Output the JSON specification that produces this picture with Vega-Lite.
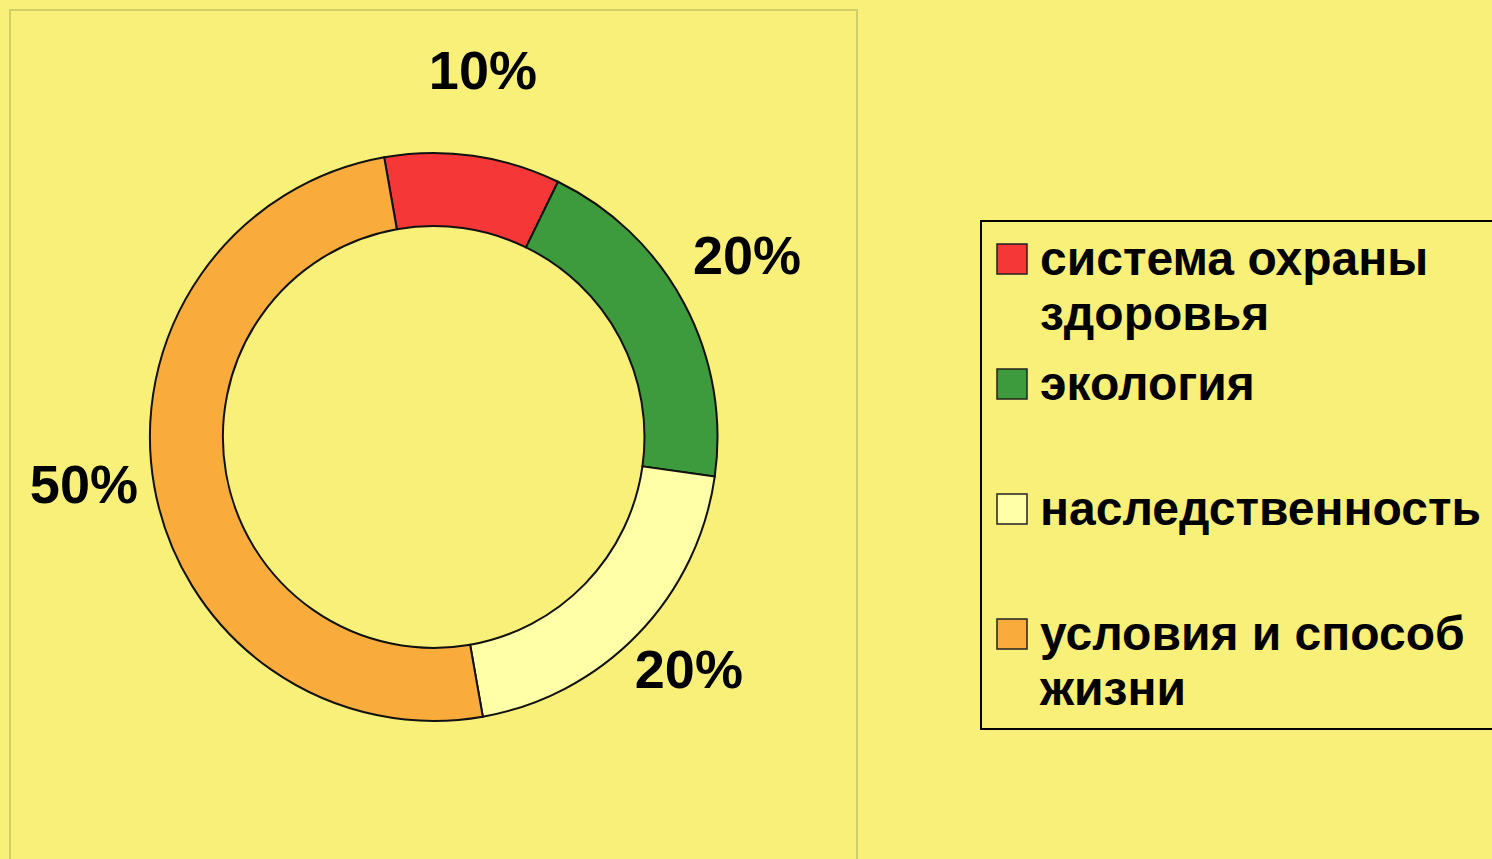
{
  "$schema": "https://vega.github.io/schema/vega-lite/v6.json",
  "width": 847,
  "height": 854,
  "padding": {"left": 10, "top": 10, "right": 0, "bottom": 0},
  "autosize": {"type": "pad"},
  "background": "#f8f079",
  "view": {"stroke": "#cfcf6a", "strokeWidth": 2},
  "data": {
    "values": [
      {"factor": "система охраны здоровья", "share": 10, "order": 1, "label": "10%"},
      {"factor": "экология", "share": 20, "order": 2, "label": "20%"},
      {"factor": "наследственность", "share": 20, "order": 3, "label": "20%"},
      {"factor": "условия и способ жизни", "share": 50, "order": 4, "label": "50%"}
    ]
  },
  "encoding": {
    "theta": {"field": "share", "type": "quantitative", "stack": true, "scale": {"range": [-0.17453, 6.10865]}},
    "order": {"field": "order", "type": "quantitative"}
  },
  "layer": [
    {
      "mark": {"type": "arc", "outerRadius": 284, "innerRadius": 211, "stroke": "#111111", "strokeWidth": 2},
      "encoding": {
        "color": {
          "field": "factor",
          "type": "nominal",
          "scale": {
            "domain": ["система охраны здоровья", "экология", "наследственность", "условия и способ жизни"],
            "range": ["#f53737", "#3d9b3d", "#ffffa8", "#f9ac3c"]
          },
          "legend": {
            "title": null,
            "orient": "none",
            "legendX": 971,
            "legendY": 211,
            "padding": 14,
            "strokeColor": "#000000",
            "symbolType": "square",
            "symbolSize": 900,
            "symbolStrokeColor": "#222222",
            "symbolStrokeWidth": 1.5,
            "symbolOpacity": 1,
            "symbolOffset": -7,
            "labelFont": "Liberation Sans",
            "labelFontWeight": "bold",
            "labelFontSize": 48,
            "labelColor": "#000000",
            "labelLimit": 2000,
            "labelOffset": 4,
            "labelBaseline": "alphabetic",
            "rowPadding": 20,
            "labelExpr": "datum.label == 'система охраны здоровья' ? ['система охраны', 'здоровья'] : datum.label == 'условия и способ жизни' ? ['условия и способ', 'жизни'] : [datum.label, ' ']",
            "encode": {
              "labels": {"update": {"lineHeight": {"value": 55}, "dy": {"value": 16}}},
              "legend": {"update": {"strokeWidth": {"value": 2}}}
            }
          }
        }
      }
    },
    {
      "mark": {"type": "text", "radius": 355, "dy": -12, "font": "Liberation Sans", "fontWeight": "bold", "fontSize": 54, "color": "#000000"},
      "encoding": {"text": {"field": "label", "type": "nominal"}}
    }
  ]
}
